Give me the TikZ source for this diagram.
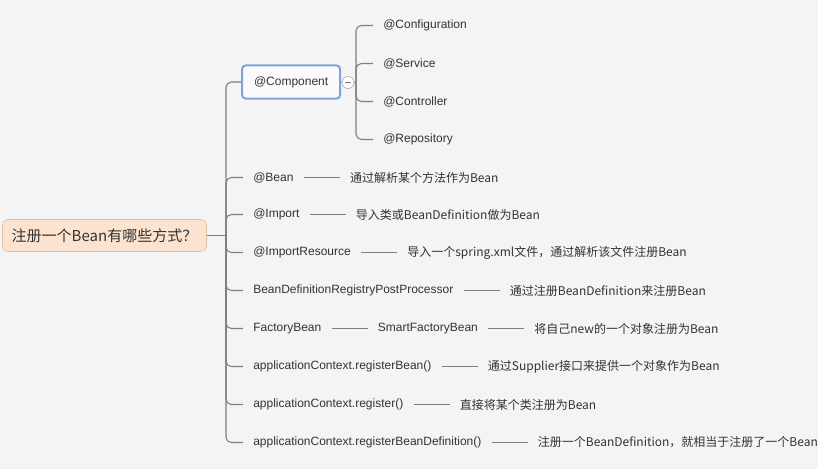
\documentclass[tikz,border=0pt]{standalone}
\usepackage{fontspec}
\setmainfont{Liberation Sans}
\newfontfamily\cjk{Noto Sans CJK SC}
\usetikzlibrary{positioning}
\definecolor{mText}{HTML}{333333}
\definecolor{mLine}{HTML}{7F7F7F}
\definecolor{mBg}{HTML}{F4F4F4}
\definecolor{mRootFill}{HTML}{FCE3CF}
\definecolor{mRootDraw}{HTML}{E2BE9F}
\definecolor{mBlue}{HTML}{7CA6D8}

\begin{document}
\begin{tikzpicture}[x=0.75pt, y=-0.75pt,
      lbl/.style={inner xsep=7.5pt, inner ysep=2pt, anchor=west, text=mText,
        font=\fontsize{9}{11}\selectfont},
      zh/.style={lbl, font=\cjk\fontsize{9}{11}\selectfont},
      link/.style={draw=mLine, line width=0.8pt},
      br/.style={link, rounded corners=4pt}]
    \fill[mBg] (0,0) rectangle (818,469);
    \useasboundingbox (0,0) rectangle (818,469);
    % root
    \node[draw=mRootDraw, fill=mRootFill, rounded corners=4pt, text=mText,
      minimum width=153pt, minimum height=24pt,
      font=\cjk\fontsize{11.25}{13}\selectfont] (root) at (104.5,235.5) {注册一个Bean有哪些方式？};
    \coordinate (trunk) at (226,235.5);
    % @Component with its children
    \node[draw=mBlue, line width=1.5pt, fill=white!55!mBg, rounded corners=3pt,
      minimum height=25pt, inner xsep=9pt, anchor=west, text=mText,
      font=\fontsize{9}{11}\selectfont] (comp) at (241,82) {@Component};
    \node[circle, draw=mLine!75, fill=white, minimum size=9pt, inner sep=0pt] (fold) at (348,82.5) {};
    \draw[link] ([xshift=-2.2pt]fold.center) -- ([xshift=2.2pt]fold.center);
    \coordinate (sub) at (356,82.5);
    \draw[link] (comp) -- (fold) -- (sub);
    \foreach \t [count=\i from 0] in {Configuration,Service,Controller,Repository} {
      \node[lbl] (s\i) at (373, 25.5+38*\i) {@\t};
      \draw[br] (sub) |- (s\i.west);
    }
    % two-part rows
    \foreach \y/\a/\b [count=\i] in {
        177.5/@Bean/通过解析某个方法作为Bean,
        214.5/@Import/导入类或BeanDefinition做为Bean,
        252.5/@ImportResource/导入一个spring.xml文件，通过解析该文件注册Bean,
        290.5/BeanDefinitionRegistryPostProcessor/通过注册BeanDefinition来注册Bean,
        366.5/applicationContext.registerBean()/通过Supplier接口来提供一个对象作为Bean,
        404.5/applicationContext.register()/直接将某个类注册为Bean,
        442.5/applicationContext.registerBeanDefinition()/注册一个BeanDefinition，就相当于注册了一个Bean} {
      \node[lbl] (m\i) at (243,\y) {\a};
      \node[zh, right=27pt of m\i] (d\i) {\b};
      \draw[link] (m\i) -- (d\i);
      \draw[br] (trunk) |- (m\i.west);
    }
    % FactoryBean row
    \node[lbl] (fb) at (243,328.5) {FactoryBean};
    \node[lbl, right=27pt of fb] (sfb) {SmartFactoryBean};
    \node[zh, right=27pt of sfb] (fbd) {将自己new的一个对象注册为Bean};
    \draw[link] (fb) -- (sfb) -- (fbd);
    \draw[br] (trunk) |- (fb.west);
    \draw[br] (trunk) |- (comp.west);
    \draw[link] (root) -- (trunk);
  \end{tikzpicture}
\end{document}
